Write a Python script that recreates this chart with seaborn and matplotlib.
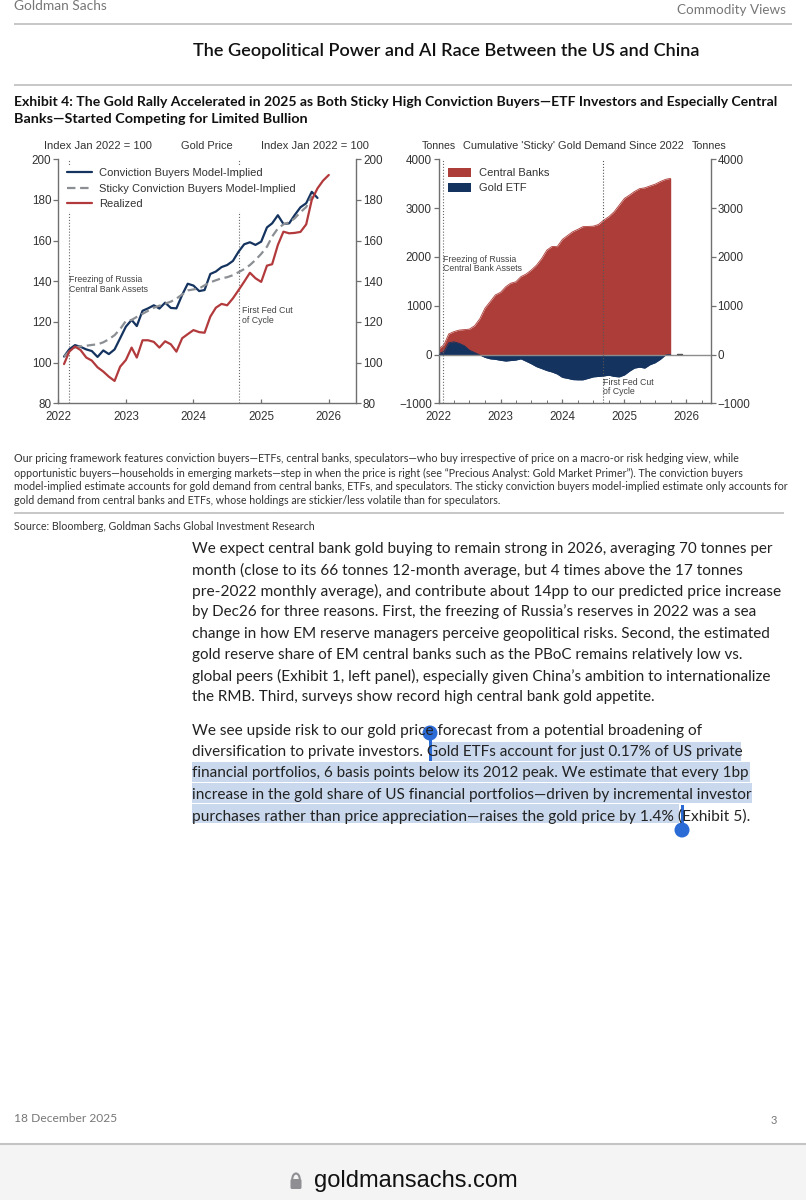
import matplotlib
matplotlib.use('Agg')
import matplotlib.pyplot as plt
import matplotlib.dates as mdates
from matplotlib.patches import Rectangle, Circle, FancyBboxPatch, Arc
import numpy as np
import pandas as pd
import seaborn as sns

sns.set_style('white')
plt.rcParams['font.family'] = ['Liberation Sans', 'DejaVu Sans']

# Left panel, index Jan 2022 = 100, monthly from Feb 2022
conviction = [103, 106.5, 108.6, 107.8, 106.5, 105.7, 102.8, 106, 104.2, 106.5, 112, 117.7,
              121, 118, 125.5, 126.7, 128.2, 126.6, 129.5, 126.9, 126.7, 133.3, 138.8, 137.9,
              135.2, 135.7, 143.6, 144.8, 147, 148, 150, 154.6, 158.2, 159.2, 157.9, 159.5,
              166.5, 168.5, 172.5, 168.2, 168.5, 172.6, 176.4, 178.4, 184, 181]
sticky = [103, 105.5, 107.5, 108, 108.3, 108.7, 109, 110, 111.5, 113.5, 116.5, 120.5,
          121, 122.5, 124, 125.5, 127, 128, 129, 130, 131.5, 133.5, 135.5, 136,
          136.5, 138, 139.5, 140.5, 141.5, 142, 143, 144.5, 146, 148, 150.5, 153.5,
          157, 162, 166, 168, 169, 171, 174, 176.5, 182]
realized = [99.3, 105.4, 107.9, 106.2, 102.5, 101, 97.7, 95.6, 93.1, 91, 98, 101.3,
            107.4, 102.5, 111, 111, 110.2, 107.4, 110.5, 109, 105.4, 112, 114, 116,
            115, 114.7, 122.6, 127, 128.9, 128.2, 131.6, 135.7, 139.8, 144.2, 141.5, 139.7,
            147.7, 148.4, 157.9, 164.4, 163.6, 163.8, 164.3, 168, 180, 185.7, 189.5, 192.3]

# Right panel, tonnes, monthly from Jan 2022
central_banks = [115, 200, 420, 470, 500, 510, 520, 590, 735, 950, 1085, 1220,
                 1275, 1390, 1460, 1490, 1595, 1650, 1730, 1830, 1970, 2140, 2215, 2210,
                 2360, 2440, 2515, 2565, 2620, 2625, 2630, 2665, 2755, 2825, 2925, 3060,
                 3200, 3270, 3340, 3400, 3415, 3455, 3490, 3545, 3590, 3610]
gold_etf = [20, 60, 240, 260, 230, 180, 90, 40, -10, -60, -90, -100,
            -120, -135, -125, -115, -90, -140, -190, -250, -290, -330, -360, -400,
            -470, -490, -515, -520, -520, -490, -460, -450, -440, -425, -450, -460,
            -420, -340, -280, -260, -280, -210, -170, -100, -10, 0]
# the stray little dash after the areas end
stub_dates = ['2025-11-10', '2025-12-05']
stub_values = [15, 15]

left_yticks = [80, 100, 120, 140, 160, 180, 200]
right_yticks = [-1000, 0, 1000, 2000, 3000, 4000]

body_para1 = [
    "We expect central bank gold buying to remain strong in 2026, averaging 70 tonnes per",
    "month (close to its 66 tonnes 12-month average, but 4 times above the 17 tonnes",
    "pre-2022 monthly average), and contribute about 14pp to our predicted price increase",
    "by Dec26 for three reasons. First, the freezing of Russia’s reserves in 2022 was a sea",
    "change in how EM reserve managers perceive geopolitical risks. Second, the estimated",
    "gold reserve share of EM central banks such as the PBoC remains relatively low vs.",
    "global peers (Exhibit 1, left panel), especially given China’s ambition to internationalize",
    "the RMB. Third, surveys show record high central bank gold appetite.",
]
body_para2 = [
    "We see upside risk to our gold price forecast from a potential broadening of",
    "diversification to private investors. Gold ETFs account for just 0.17% of US private",
    "financial portfolios, 6 basis points below its 2012 peak. We estimate that every 1bp",
    "increase in the gold share of US financial portfolios—driven by incremental investor",
    "purchases rather than price appreciation—raises the gold price by 1.4% (Exhibit 5).",
]
notes = [
    "Our pricing framework features conviction buyers—ETFs, central banks, speculators—who buy irrespective of price on a macro-or risk hedging view, while",
    "opportunistic buyers—households in emerging markets—step in when the price is right (see “Precious Analyst: Gold Market Primer”). The conviction buyers",
    "model-implied estimate accounts for gold demand from central banks, ETFs, and speculators. The sticky conviction buyers model-implied estimate only accounts for",
    "gold demand from central banks and ETFs, whose holdings are stickier/less volatile than for speculators.",
]

W, H = 806, 1200
NAVY = '#14335f'
RED = '#b23a3c'
AREA_RED = '#ad3d38'
GREY = '#707070'
PAGE_FONT = ['Lato', 'DejaVu Sans']

fig = plt.figure(figsize=(W / 100, H / 100), dpi=100, facecolor='white')

# pixel-coordinate layer for the page around the charts
page = fig.add_axes([0, 0, 1, 1], zorder=0)
page.set_xlim(0, W)
page.set_ylim(H, 0)
page.axis('off')


def txt(x, y, s, size=9, color='#222222', family=None, right=None, **kw):
    # size gets rescaled when a right edge in pixels is given
    t = page.text(x, y, s, fontsize=size, color=color, va='center', clip_on=False,
                  family=family or PAGE_FONT, **kw)
    if right is not None:
        ext = t.get_window_extent(fig.canvas.get_renderer())
        t.set_fontsize(size * (right - x) / ext.width)
    return t


def rule(y, x0=14, x1=792, color='#bdbdbd'):
    page.plot([x0, x1], [y, y], color=color, lw=1.2, solid_capstyle='butt')


# header
txt(14, 6, "Goldman Sachs", size=9, color='#777777', right=107)
txt(677, 10, "Commodity Views", size=9, color='#777777', right=786)
rule(24)
txt(193, 51, "The Geopolitical Power and AI Race Between the US and China",
    size=13, color='#111111', weight='semibold', right=700)
rule(85)
txt(14, 102, "Exhibit 4: The Gold Rally Accelerated in 2025 as Both Sticky High Conviction Buyers—ETF Investors and Especially Central",
    size=9, color='#111111', weight='bold', right=779)
txt(14, 119, "Banks—Started Competing for Limited Bullion",
    size=9, color='#111111', weight='bold', right=309)

# notes and source
for y, line, right in zip([459, 473, 487, 501], notes, [735, 742, 784, 500]):
    txt(14, y, line, size=7, color='#333333', right=right)
rule(513, x1=784)
txt(14, 526, "Source: Bloomberg, Goldman Sachs Global Investment Research", size=7,
    color='#333333', right=314)

# selection highlight under the second paragraph
for x0, x1, y0, y1 in [(430, 741, 742, 761), (192, 750, 762, 782),
                       (192, 752, 783, 803), (192, 679, 804, 823)]:
    page.add_patch(Rectangle((x0, y0), x1 - x0, y1 - y0, color='#c9d8ec', lw=0))

# body text
for y, line, right in zip([549, 570, 591, 612, 634, 655, 676, 697], body_para1,
                          [771, 741, 777, 753, 771, 740, 771, 654]):
    txt(192, y, line, size=11, color='#222222', right=right)
for y, line, right in zip([731, 752, 773, 795, 816], body_para2, [701, 741, 750, 752, 750]):
    txt(192, y, line, size=11, color='#222222', right=right)

# selection handles
HANDLE = '#2b6bd6'
page.add_patch(Rectangle((428.5, 733), 3, 28, color=HANDLE, lw=0))
page.add_patch(Circle((430, 733), 7.5, color=HANDLE, lw=0))
page.add_patch(Rectangle((680.5, 805), 3, 24, color=HANDLE, lw=0))
page.add_patch(Circle((682, 830), 7.5, color=HANDLE, lw=0))

# footer and browser bar
txt(14, 1119, "18 December 2025", size=8, color='#777777', right=117)
txt(771, 1120, "3", size=8, color='#777777')
page.add_patch(Rectangle((0, 1144), W, H - 1144, color='#f4f4f4', lw=0))
page.plot([0, W], [1144, 1144], color='#c4c4c4', lw=1.5)
txt(314, 1181, "goldmansachs.com", size=16, color='#111111',
    family=['Liberation Sans', 'DejaVu Sans'], right=518)
page.add_patch(FancyBboxPatch((290.5, 1179), 11, 10, boxstyle='round,pad=0,rounding_size=1.5',
                              color='#8e8e93', lw=0))
page.add_patch(Arc((296, 1179.5), 7.5, 12, theta1=180, theta2=360, color='#8e8e93', lw=1.5))


def panel_axes(x0, x1, y0=159.3, y1=403.3):
    return fig.add_axes([x0 / W, 1 - y1 / H, (x1 - x0) / W, (y1 - y0) / H], zorder=2,
                        facecolor='none')


def style_axes(ax, xmax, yticks, minor=True):
    ax.set_xlim(pd.Timestamp('2022-01-01'), pd.Timestamp(xmax))
    ax.set_ylim(yticks[0], yticks[-1])
    ax.set_yticks(yticks)
    ax.xaxis.set_major_locator(mdates.YearLocator())
    ax.xaxis.set_major_formatter(mdates.DateFormatter('%Y'))
    if minor:
        ax.xaxis.set_minor_locator(mdates.MonthLocator(bymonth=[4, 7, 10]))
    ax.set_xlabel('')
    ax.set_ylabel('')
    ax.spines['top'].set_visible(False)
    for side in ['left', 'right', 'bottom']:
        ax.spines[side].set_visible(True)
        ax.spines[side].set_color(GREY)
        ax.spines[side].set_linewidth(1.0)
    ax.tick_params(axis='y', which='major', left=True, right=False, length=3.5, width=0.9,
                   color=GREY, labelsize=8.4, labelcolor='#333333', pad=1.5)
    ax.tick_params(axis='x', which='major', bottom=True, direction='in', length=3, width=0.9,
                   color=GREY, labelsize=8.4, labelcolor='#333333', pad=5.5)
    ax.tick_params(axis='x', which='minor', bottom=True, direction='in', length=2, width=0.7,
                   color=GREY)
    twin = ax.twinx()
    twin.set_ylim(ax.get_ylim())
    twin.set_yticks(yticks)
    twin.tick_params(axis='y', right=True, left=False, length=3.5, width=0.9, color=GREY,
                     labelsize=8.4, labelcolor='#333333', pad=1.5)
    for side in twin.spines:
        twin.spines[side].set_visible(False)
    twin.set_ylabel('')
    twin.grid(False)
    return twin


# left chart
months_left = pd.date_range('2022-02-01', periods=len(realized), freq='MS')
ax1 = panel_axes(58.3, 356)
ax1.axvline(pd.Timestamp('2022-02-28'), color='#666666', lw=0.8, ls=':', zorder=1)
ax1.axvline(pd.Timestamp('2024-09-01'), color='#666666', lw=0.8, ls=':', zorder=1)
sns.lineplot(x=months_left[:len(conviction)], y=conviction, ax=ax1, color=NAVY, lw=1.6,
             label='Conviction Buyers Model-Implied', zorder=3)
sns.lineplot(x=months_left[:len(sticky)], y=sticky, ax=ax1, color='#8b8f94', lw=1.6,
             linestyle=(0, (3.8, 2.1)), label='Sticky Conviction Buyers Model-Implied', zorder=4)
sns.lineplot(x=months_left, y=realized, ax=ax1, color=RED, lw=1.6, label='Realized', zorder=5)
style_axes(ax1, '2026-05-28', left_yticks, minor=False)
leg1 = ax1.legend(loc='upper left', bbox_to_anchor=(0.017, 0.978), frameon=True, facecolor='white',
                  edgecolor='none', framealpha=1, fontsize=8.0, labelcolor='#333333',
                  labelspacing=0.5, handlelength=2.25, handletextpad=0.66, borderpad=0.3,
                  borderaxespad=0)
leg1.set_zorder(2)
ax1.text(pd.Timestamp('2022-02-28'), 138.4, "Freezing of Russia\nCentral Bank Assets", fontsize=6.3,
         color='#444444', va='center', linespacing=1.05)
ax1.text(pd.Timestamp('2024-09-20'), 123.2, "First Fed Cut\nof Cycle", fontsize=6.3,
         color='#444444', va='center', linespacing=1.05)

# right chart
months_right = pd.date_range('2022-01-01', periods=len(central_banks), freq='MS')
ax2 = panel_axes(438.7, 710.7)
sns.lineplot(x=months_right, y=central_banks, ax=ax2, color=AREA_RED, lw=0.6,
             label='Central Banks', legend=False)
ax2.fill_between(months_right, 0, central_banks, color=AREA_RED, lw=0, zorder=2)
sns.lineplot(x=months_right, y=gold_etf, ax=ax2, color=NAVY, lw=0.6, legend=False)
ax2.fill_between(months_right, 0, gold_etf, color=NAVY, lw=0, zorder=3)
ax2.axhline(0, color='#8c8c8c', lw=1.0, zorder=4)
sns.lineplot(x=pd.to_datetime(stub_dates), y=stub_values, ax=ax2, color='#555555', lw=1.0,
             legend=False, zorder=5)
ax2.axvline(pd.Timestamp('2022-01-28'), color='#666666', lw=0.8, ls=':', zorder=5)
ax2.axvline(pd.Timestamp('2024-08-28'), color='#555555', lw=0.8, ls=':', zorder=5)
style_axes(ax2, '2026-05-25', right_yticks)
handles = [Rectangle((0, 0), 1, 1, color=AREA_RED, lw=0), Rectangle((0, 0), 1, 1, color=NAVY, lw=0)]
ax2.legend(handles, ['Central Banks', 'Gold ETF'], loc='upper left', bbox_to_anchor=(0.033, 0.965),
           frameon=False, fontsize=8.0, labelcolor='#333333', labelspacing=0.42,
           handlelength=2.07, handleheight=0.85, handletextpad=0.75, borderpad=0, borderaxespad=0)
ax2.text(pd.Timestamp('2022-01-26'), 1860, "Freezing of Russia\nCentral Bank Assets", fontsize=6.3,
         color='#444444', va='center', linespacing=1.05, zorder=6)
ax2.text(pd.Timestamp('2024-08-28'), -660, "First Fed Cut\nof Cycle", fontsize=6.3,
         color='#444444', va='center', linespacing=1.05, zorder=6)

# chart headers
CHART_FONT = ['Liberation Sans', 'DejaVu Sans']
for x, s, right in [(44, "Index Jan 2022 = 100", 152), (181, "Gold Price", 233),
                    (261, "Index Jan 2022 = 100", 369), (422, "Tonnes", 456),
                    (463, "Cumulative 'Sticky' Gold Demand Since 2022", 686), (692, "Tonnes", 727)]:
    txt(x, 146, s, size=8, color='#333333', family=CHART_FONT, right=right)

fig.savefig('out.png', dpi=100, facecolor='white')
